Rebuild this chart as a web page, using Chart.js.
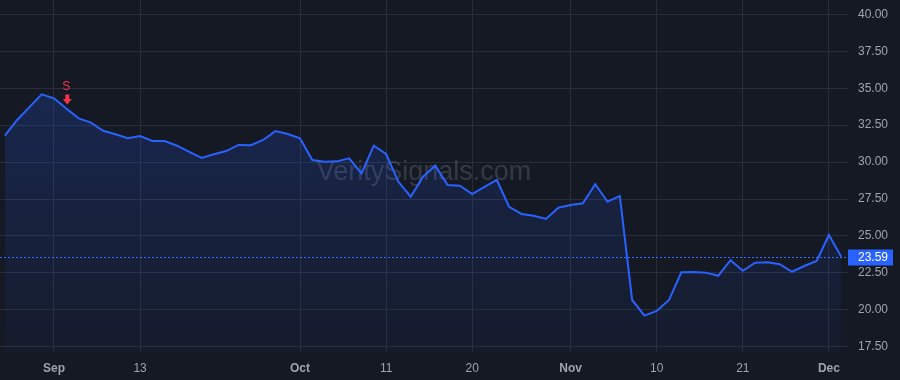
<!DOCTYPE html>
<html>
<head>
<meta charset="utf-8">
<script src="https://cdn.jsdelivr.net/npm/chart.js@4.4.1/dist/chart.umd.min.js"></script>
<style>
  html, body { margin: 0; padding: 0; background: #151924; }
  #wrap { width: 900px; height: 380px; }
</style>
</head>
<body>
<div id="wrap"><canvas id="c" width="900" height="380"></canvas></div>
<script>
// ---- data ----
const dates = [
  '2023-08-28','2023-08-29','2023-08-30','2023-08-31',
  '2023-09-01','2023-09-05','2023-09-06','2023-09-07','2023-09-08','2023-09-11','2023-09-12','2023-09-13','2023-09-14','2023-09-15',
  '2023-09-18','2023-09-19','2023-09-20','2023-09-21','2023-09-22','2023-09-25','2023-09-26','2023-09-27','2023-09-28','2023-09-29',
  '2023-10-02','2023-10-03','2023-10-04','2023-10-05','2023-10-06','2023-10-09','2023-10-10','2023-10-11','2023-10-12','2023-10-13',
  '2023-10-16','2023-10-17','2023-10-18','2023-10-19','2023-10-20','2023-10-23','2023-10-24','2023-10-25','2023-10-26','2023-10-27',
  '2023-10-30','2023-10-31',
  '2023-11-01','2023-11-02','2023-11-03','2023-11-06','2023-11-07','2023-11-08','2023-11-09','2023-11-10','2023-11-13','2023-11-14',
  '2023-11-15','2023-11-16','2023-11-17','2023-11-20','2023-11-21','2023-11-22','2023-11-24','2023-11-27','2023-11-28','2023-11-29',
  '2023-11-30','2023-12-01','2023-12-04'
];
const prices = [
  31.79, 32.85, 33.72, 34.59,
  34.32, 33.63, 32.96, 32.67, 32.12, 31.88, 31.61, 31.77, 31.43, 31.43,
  31.11, 30.69, 30.28, 30.53, 30.75, 31.16, 31.14, 31.50, 32.10, 31.90,
  31.61, 30.14, 30.03, 30.05, 30.26, 29.24, 31.11, 30.55, 28.67, 27.66,
  29.01, 29.76, 28.45, 28.40, 27.84, 28.32, 28.79, 26.98, 26.49, 26.37,
  26.15, 26.91,
  27.10, 27.21, 28.50, 27.32, 27.71, 20.67, 19.61, 19.93, 20.67, 22.54,
  22.56, 22.52, 22.31, 23.36, 22.65, 23.19, 23.22, 23.09, 22.58, 22.97,
  23.31, 25.07, 23.59
];
const xTickDates  = ['2023-09-01','2023-09-13','2023-10-02','2023-10-11','2023-10-20','2023-11-01','2023-11-10','2023-11-21','2023-12-01'];
const xTickLabels = ['Sep','13','Oct','11','20','Nov','10','21','Dec'];
const xTickBold   = [true,false,true,false,false,true,false,false,true];
const yTicks = [17.5, 20, 22.5, 25, 27.5, 30, 32.5, 35, 37.5, 40];
const signalDates  = ['2023-09-05'];
const signalLabels = ['S'];
const watermarkText = 'VeritySignals.com';

// ---- derived ----
const points = prices.map((v, i) => ({ x: i, y: v }));
const xTickIdx = xTickDates.map(d => dates.indexOf(d));
const lastPrice = prices[prices.length - 1];

const LINE = '#2962ff';
const GRID = '#292d39';
const TXT = '#a0a3ac';
const FONT = "'Liberation Sans', Arial, sans-serif";

function noPad(s) { s.paddingTop = 0; s.paddingBottom = 0; s.paddingLeft = 0; s.paddingRight = 0; }

const watermark = {
  id: 'watermark',
  beforeDatasetsDraw(chart) {
    const { ctx, chartArea: a } = chart;
    ctx.save();
    ctx.font = '27px ' + FONT;
    ctx.fillStyle = 'rgba(130,134,146,0.3)';
    ctx.textAlign = 'center';
    ctx.textBaseline = 'middle';
    ctx.fillText(watermarkText, (a.left + a.right) / 2, 173);
    ctx.restore();
  }
};

const priceLine = {
  id: 'priceLine',
  afterDatasetsDraw(chart) {
    const { ctx, chartArea: a } = chart;
    const y = Math.round(chart.scales.y.getPixelForValue(lastPrice)) + 0.5;
    ctx.save();
    ctx.strokeStyle = '#3a6dff';
    ctx.lineWidth = 1;
    ctx.setLineDash([2, 2]);
    ctx.beginPath();
    ctx.moveTo(a.left, y);
    ctx.lineTo(a.right, y);
    ctx.stroke();
    ctx.setLineDash([]);
    ctx.fillStyle = LINE;
    ctx.fillRect(a.right, y - 8, 45, 16);
    ctx.fillStyle = '#ffffff';
    ctx.font = '12px ' + FONT;
    ctx.textAlign = 'left';
    ctx.textBaseline = 'middle';
    ctx.fillText(lastPrice.toFixed(2), a.right + 10, y + 0.5);
    ctx.restore();
  }
};

const signals = {
  id: 'signals',
  afterDatasetsDraw(chart) {
    const { ctx } = chart;
    const xs = chart.scales.x, ys = chart.scales.y;
    ctx.save();
    signalDates.forEach((d, k) => {
      const i = dates.indexOf(d);
      const px = xs.getPixelForValue(i) + 1;
      const tip = ys.getPixelForValue(prices[i]) - 4;
      ctx.fillStyle = '#f23645';
      ctx.fillRect(px - 2, tip - 10, 4, 5);
      ctx.beginPath();
      ctx.moveTo(px - 4.5, tip - 5.5);
      ctx.lineTo(px + 4.5, tip - 5.5);
      ctx.lineTo(px, tip);
      ctx.closePath();
      ctx.fill();
      ctx.font = '12px ' + FONT;
      ctx.textAlign = 'center';
      ctx.textBaseline = 'middle';
      ctx.fillText(signalLabels[k], px - 1, tip - 18);
    });
    ctx.restore();
  }
};

new Chart(document.getElementById('c'), {
  type: 'line',
  data: {
    datasets: [{
      data: points,
      borderColor: LINE,
      borderWidth: 2,
      pointRadius: 0,
      tension: 0,
      fill: 'start',
      backgroundColor(c) {
        const a = c.chart.chartArea;
        if (!a) return 'rgba(41,98,255,0.1)';
        const g = c.chart.ctx.createLinearGradient(0, 90, 0, a.bottom);
        g.addColorStop(0, 'rgba(41,98,255,0.20)');
        g.addColorStop(1, 'rgba(41,98,255,0.035)');
        return g;
      }
    }]
  },
  options: {
    responsive: false,
    animation: false,
    layout: { padding: 0 },
    plugins: { legend: { display: false }, tooltip: { enabled: false } },
    scales: {
      x: {
        type: 'linear',
        min: -0.39,
        max: 68.55,
        border: { display: false },
        grid: { color: GRID, drawTicks: false },
        afterBuildTicks(s) { s.ticks = xTickIdx.map(v => ({ value: v })); },
        afterFit(s) { s.height = 28; noPad(s); },
        ticks: {
          autoSkip: false,
          maxRotation: 0,
          padding: 9,
          color: TXT,
          font(c) { return { family: FONT, size: 12, weight: xTickBold[c.index] ? 'bold' : 'normal' }; },
          callback(v) { const k = xTickIdx.indexOf(v); return k >= 0 ? xTickLabels[k] : ''; }
        }
      },
      y: {
        position: 'right',
        min: 17.15,
        max: 40.97,
        border: { display: false },
        grid: { color: GRID, drawTicks: false },
        afterBuildTicks(s) { s.ticks = yTicks.map(v => ({ value: v })); },
        afterFit(s) { s.width = 52; noPad(s); },
        ticks: {
          padding: 10,
          color: TXT,
          font: { family: FONT, size: 12 },
          callback(v) { return Number(v).toFixed(2); }
        }
      }
    }
  },
  plugins: [watermark, priceLine, signals]
});
</script>
</body>
</html>
